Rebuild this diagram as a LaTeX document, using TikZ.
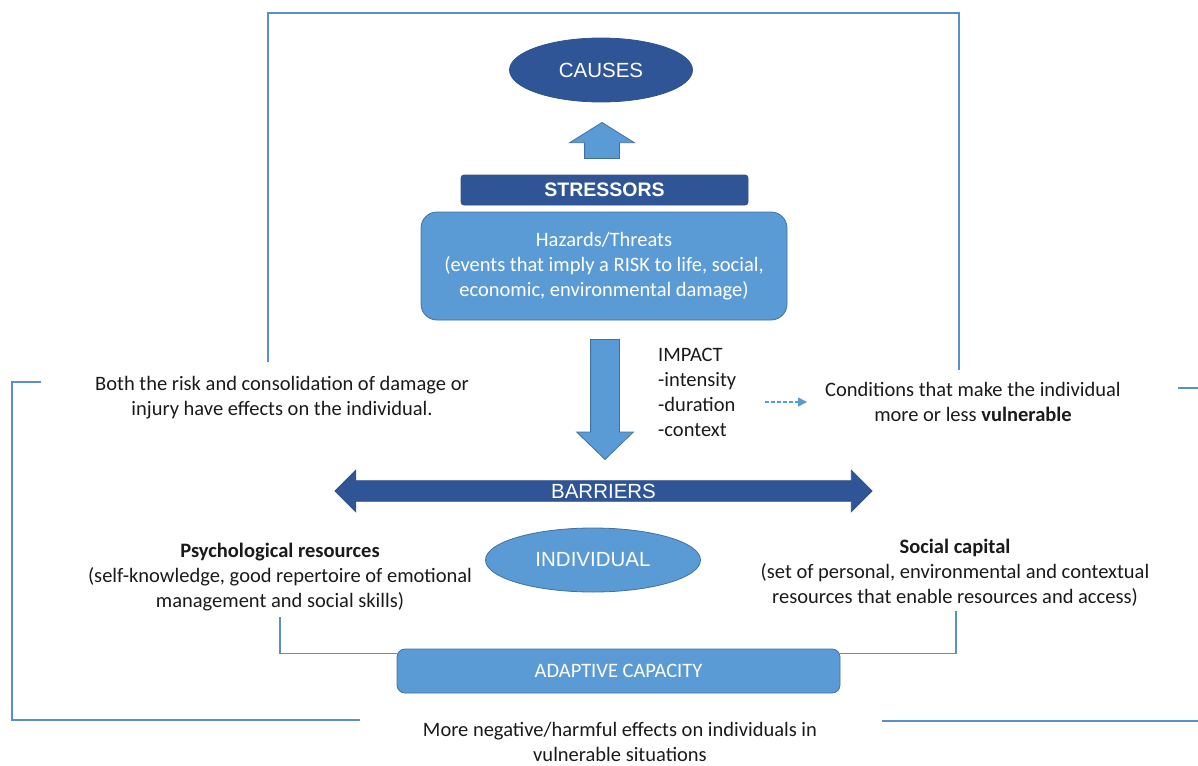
\documentclass[tikz,border=0pt]{standalone}
\usepackage{fontspec}
\setmainfont{Carlito}
\newfontfamily\headfont{Liberation Sans}
\usepackage{xcolor}
\usepackage{tikz}
\usetikzlibrary{shapes.geometric, shapes.arrows, arrows.meta, positioning}
\definecolor{darkfill}{HTML}{2F5597}
\definecolor{darkdraw}{HTML}{2F528F}
\definecolor{lightfill}{HTML}{5B9BD5}
\definecolor{lightdraw}{HTML}{41719C}
\definecolor{linkdraw}{HTML}{5B8FCB}
\definecolor{txtcol}{HTML}{1A1A1A}
\tikzset{
  blk/.style={rectangle, align=center, inner sep=0pt, line width=0.8pt},
  dark/.style={blk, draw=darkdraw, fill=darkfill, text=white, rounded corners=3pt, font=\headfont\bfseries\fontsize{19.5}{23}\selectfont},
  light/.style={blk, draw=lightdraw, fill=lightfill, text=white, font=\fontsize{20.5}{25}\selectfont},
  hazard/.style={light, rounded corners=16pt},
  adaptive/.style={light, rounded corners=8pt},
  oval/.style={ellipse, inner sep=0pt, line width=0.8pt, text=white, font=\headfont\fontsize{20.5}{25}\selectfont},
  causeoval/.style={oval, draw=darkdraw, fill=darkfill},
  indoval/.style={oval, draw=lightdraw, fill=lightfill},
  blockarr/.style={single arrow, single arrow head indent=0pt, line width=0.8pt, draw=lightdraw, fill=lightfill},
  barrier/.style={double arrow, double arrow head indent=0pt, inner xsep=0pt, inner ysep=2.6pt, line width=0.8pt, draw=darkdraw, fill=darkfill, text=white, font=\headfont\fontsize{20.5}{25}\selectfont},
  txt/.style={align=center, inner sep=0pt, text=txtcol, font=\fontsize{20.5}{25}\selectfont},
  link/.style={draw=linkdraw, line width=1.2pt},
  dasharr/.style={-{Triangle[length=9pt, width=9pt]}, dash pattern=on 4pt off 2pt, line width=1.4pt, draw=lightfill, fill=lightfill},
}
\begin{document}
\begin{tikzpicture}[x=1pt, y=-1pt]
  \useasboundingbox (0,0) rectangle (1198,765);
  \node[causeoval, minimum width=183pt, minimum height=64pt] (causes) at (601,70) {CAUSES};
  \node[blockarr, shape border rotate=90, inner xsep=17pt, inner ysep=5pt, minimum height=36pt, single arrow head extend=15pt, single arrow tip angle=116, anchor=tip] (up) at (602,122) {};
  \node[dark, minimum width=287pt, minimum height=30pt] (stress) at (604.5,190) {STRESSORS};
  \node[hazard, minimum width=366pt, minimum height=108pt] (hazard) at (604,266) {Hazards/Threats\\(events that imply a RISK to life, social,\\economic, environmental damage)};
  \node[blockarr, shape border rotate=270, inner sep=14pt, minimum height=120pt, single arrow head extend=14pt, single arrow tip angle=92, anchor=tip] (down) at (605,460) {};
  \node[txt, align=left, anchor=west] (impact) at (658,392.5) {IMPACT\\-intensity\\-duration\\-context};
  \node[txt] (both) at (282,398) {Both the risk and consolidation of damage or\\injury have effects on the individual.};
  \node[txt] (cond) at (973,402) {Conditions that make the individual\\more or less \textbf{vulnerable}};
  \draw[dasharr] ([xshift=-60pt]cond.west) -- ([xshift=-18pt]cond.west);
  \node[barrier, minimum height=537pt, minimum width=41pt, double arrow head extend=10.5pt, double arrow tip angle=90] (barriers) at (603.5,491) {BARRIERS};
  \node[indoval, minimum width=215pt, minimum height=64pt] (indiv) at (593,560) {INDIVIDUAL};
  \node[txt] (psych) at (280,577) {\textbf{Psychological resources}\\(self-knowledge, good repertoire of emotional\\management and social skills)};
  \node[txt] (social) at (955,573) {\textbf{Social capital}\\(set of personal, environmental and contextual\\resources that enable resources and access)};
  \node[adaptive, minimum width=443pt, minimum height=44pt] (adapt) at (618.5,671) {ADAPTIVE CAPACITY};
  \node[txt] (effects) at (620,742) {More negative/harmful effects on individuals in\\vulnerable situations};
  \coordinate (fl) at (268,362);
  \coordinate (fr) at (959,370);
  \draw[link] (fl) -- (268,13) -| (fr);
  \coordinate (ol) at (41,382);
  \coordinate (ob) at (360,720);
  \draw[link] (ol) -| (12,720) -- (ob);
  \coordinate (or) at (1178,388);
  \draw[link] (or) -- (1198,388);
  \coordinate (obr) at (882,721);
  \draw[link] (obr) -- (1198,721);
  \draw[link] ([yshift=-6pt]psych.south) |- ([yshift=-5pt]adapt.north west);
  \draw[link] ([xshift=1pt, yshift=-4pt]social.south) |- ([yshift=-5pt]adapt.north east);
\end{tikzpicture}
\end{document}
